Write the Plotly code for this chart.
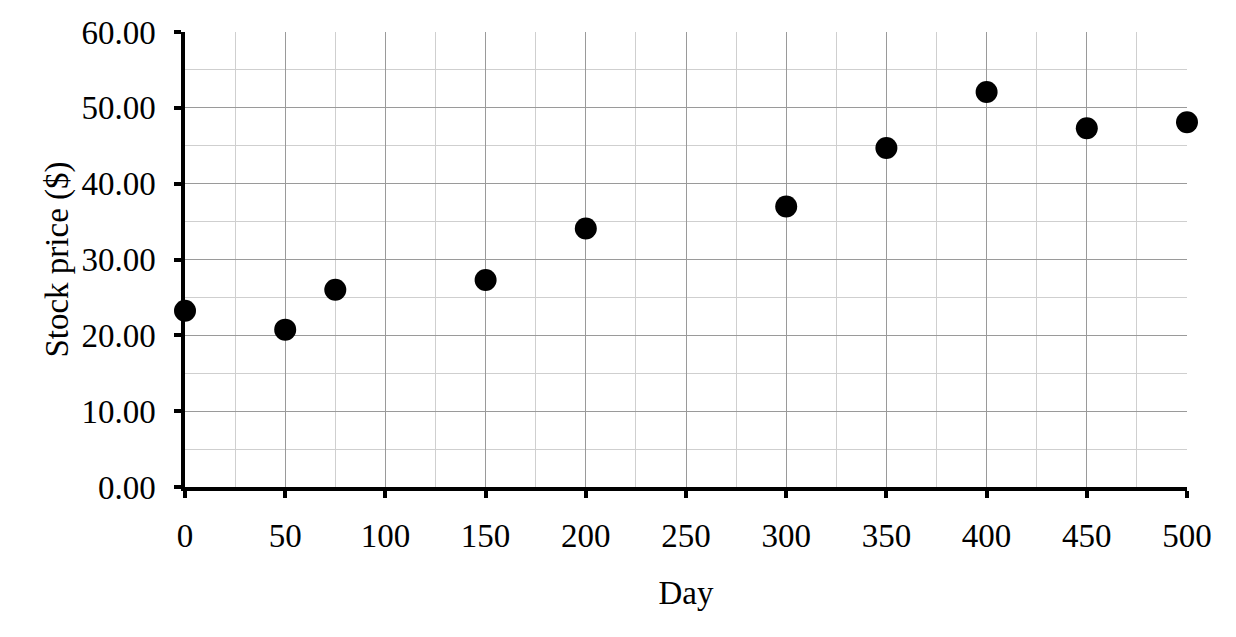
import plotly.graph_objects as go

days = [0, 50, 75, 150, 200, 300, 350, 400, 450, 500]
prices = [23.25, 20.75, 26.0, 27.3, 34.1, 37.0, 44.7, 52.1, 47.3, 48.1]
x_ticks = [0, 50, 100, 150, 200, 250, 300, 350, 400, 450, 500]
y_ticks = [0, 10, 20, 30, 40, 50, 60]

font_family = "Liberation Serif, Times New Roman, serif"

fig = go.Figure()
fig.add_trace(go.Scatter(
    x=days, y=prices, mode="markers",
    marker=dict(size=22, color="black"),
    cliponaxis=False, showlegend=False,
))

fig.update_layout(
    width=1236, height=637,
    margin=dict(l=177, r=57, t=24, b=158, autoexpand=False),
    paper_bgcolor="white", plot_bgcolor="white",
    font=dict(family=font_family, size=33, color="black"),
)

fig.update_xaxes(
    range=[0, 500], tickvals=x_ticks, ticktext=[str(v) for v in x_ticks],
    automargin=False,
    showgrid=True, gridcolor="#9a9a9a", gridwidth=1.3,
    minor=dict(dtick=25, tick0=0, showgrid=True, gridcolor="#cfcfcf", gridwidth=1.3),
    showline=True, linecolor="black", linewidth=3.5, mirror=False,
    ticks="outside", ticklen=7, tickwidth=3.5, tickcolor="black",
    ticklabelstandoff=10,
    zeroline=False,
    title=dict(text="Day", font=dict(size=33), standoff=29),
)
fig.update_yaxes(
    range=[0, 60], tickvals=y_ticks, ticktext=[f"{v:.2f}" for v in y_ticks],
    automargin=False,
    showgrid=True, gridcolor="#9a9a9a", gridwidth=1.3,
    minor=dict(dtick=5, tick0=0, showgrid=True, gridcolor="#cfcfcf", gridwidth=1.3),
    showline=True, linecolor="black", linewidth=3.5, mirror=False,
    ticks="outside", ticklen=7, tickwidth=3.5, tickcolor="black",
    ticklabelstandoff=12,
    zeroline=False,
    title=dict(text="Stock price ($)", font=dict(size=33), standoff=4),
)

fig.write_html("out.html")
